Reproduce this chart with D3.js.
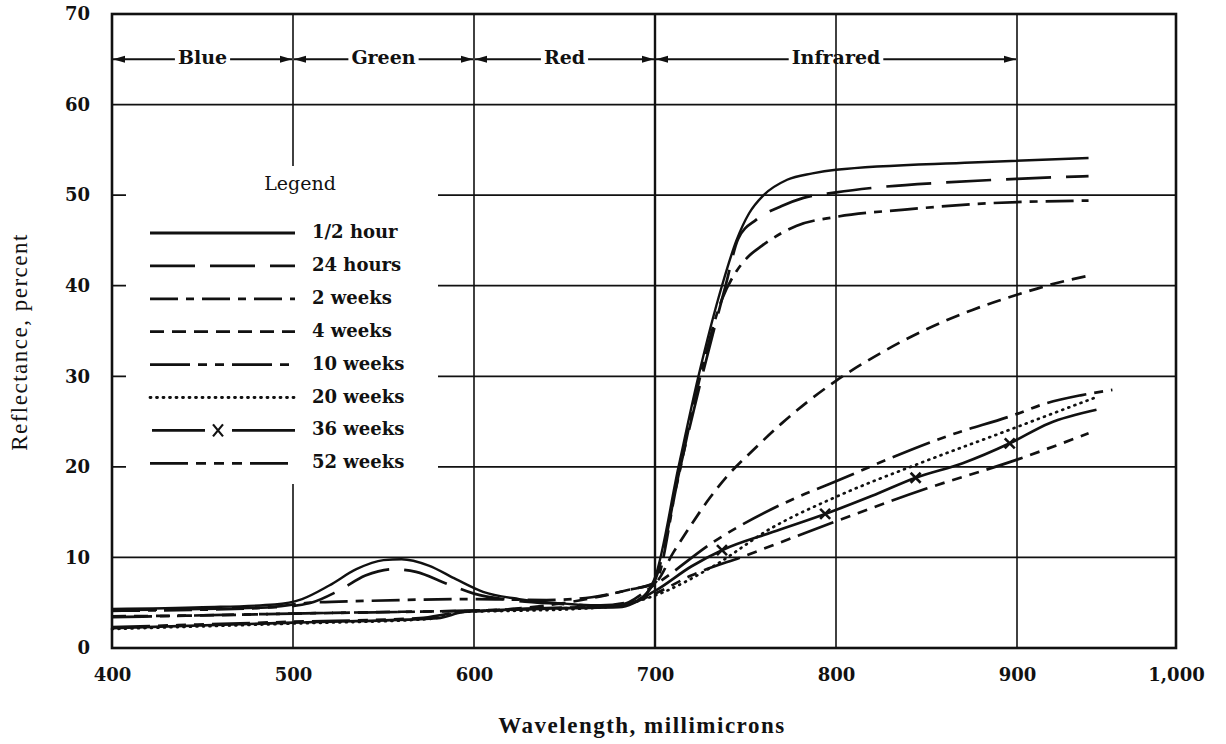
<!DOCTYPE html>
<html>
<head>
<meta charset="utf-8">
<script src="https://cdn.jsdelivr.net/npm/d3@7"></script>
<style>
  body { margin: 0; background: #fff; }
  text { fill: #111; }
</style>
</head>
<body>
<svg id="chart" width="1226" height="744"></svg>
<script>
///////////////////// DATA /////////////////////////
// wavelength (millimicrons), reflectance (percent)
let xTicks = [400, 500, 600, 700, 800, 900, 1000];
let yTicks = [0, 10, 20, 30, 40, 50, 60, 70];
let bandNames = ["Blue", "Green", "Red", "Infrared"];
let bandEdges = [400, 500, 600, 700, 900];
let bandLevel = 65;

let seriesNames = ["1/2 hour", "24 hours", "2 weeks", "4 weeks",
                   "10 weeks", "20 weeks", "36 weeks", "52 weeks"];

let halfHour = [[400,4.3],[450,4.5],[490,4.8],[505,5.4],[520,6.9],[535,8.7],[550,9.7],[560,9.8],
  [575,9.1],[590,7.6],[605,6.2],[625,5.4],[650,4.9],[675,4.6],[690,5.2],[700,7.8],[713,20],
  [724,30],[737,40],[745,45],[752,48],[760,50],[773,51.7],[787,52.4],[800,52.8],[875,53.6],[945,54.1]];
let hours24 = [[400,4.2],[490,4.5],[510,5.0],[525,6.3],[540,8.0],[555,8.7],[568,8.4],[585,7.1],
  [600,6.0],[620,5.3],[645,4.9],[670,4.7],[690,5.3],[700,7.5],[714,20],[726,30],[739,40],
  [746,45.2],[756,47.3],[770,48.8],[782,49.7],[800,50.3],[820,50.8],[860,51.4],[900,51.8],[945,52.1]];
let weeks2 = [[400,4.1],[480,4.4],[510,5.0],[540,5.2],[600,5.4],[640,5.3],[665,5.6],[685,6.4],
  [700,7.2],[712,18],[725,30],[737,38.5],[745,41.6],[752,43.3],[759,44.4],[778,46.6],[800,47.6],
  [838,48.4],[875,49.0],[945,49.4]];
let weeks4 = [[400,3.5],[450,3.6],[500,3.8],[560,4.0],[600,4.1],[640,4.7],[665,5.5],[685,6.4],
  [700,7.2],[710,10.5],[720,13.6],[730,16.5],[740,19.0],[755,22.0],[770,24.8],[785,27.3],
  [800,29.5],[825,32.6],[850,35.2],[875,37.3],[900,39.0],[925,40.3],[945,41.1]];
let weeks10 = [[400,3.4],[500,3.8],[590,4.1],[640,4.4],[680,4.7],[700,7.0],[733,11.8],[778,16.6],
  [800,18.4],[821,20.2],[863,23.5],[898,25.7],[918,27.0],[940,27.9],[960,28.5]];
let weeks20 = [[400,2.1],[500,2.7],[575,3.2],[595,4.0],[620,4.1],[655,4.3],[680,4.7],[700,5.8],
  [732,9.0],[764,13.2],[799,16.6],[845,20.3],[896,24.1],[918,25.6],[950,27.7]];
let weeks36 = [[400,2.2],[500,2.8],[580,3.3],[595,4.0],[650,4.4],[680,4.5],[700,6.3],[720,9.0],
  [737,10.8],[765,12.8],[794,14.8],[820,16.8],[844,18.8],[870,20.4],[896,22.6],[920,24.8],[950,26.3]];
let weeks52 = [[400,2.3],[500,2.9],[570,3.3],[590,3.9],[620,4.2],[660,4.5],[685,4.9],[700,6.0],
  [720,8.0],[750,10.2],[800,14.0],[850,17.6],[900,20.8],[945,23.7]];
let crosses36 = [[737,10.8],[794,14.8],[844,18.8],[896,22.6]];

let seriesData = [halfHour, hours24, weeks2, weeks4, weeks10, weeks20, weeks36, weeks52];

///////////////////// STYLE /////////////////////////
let dashes = [null, "45,15", "28,8,8,8", "14,8", "40,8,9,8,9,8", "1,5.5", null, "38,8,10,8,10,8,10,8"];
let ink = "#111";
let serif = "'DejaVu Serif', serif";

let svg = d3.select("#chart");

// the scanned sheet is squeezed a little past 900
let x = d3.scaleLinear().domain([400, 900, 1000]).range([112, 1017, 1176]);
let y = d3.scaleLinear().domain([0, 70]).range([648, 14]);

///////////////////// GRID /////////////////////////
let grid = svg.append("g").attr("stroke", ink);

grid.selectAll(".vgrid")
  .data(xTicks.filter(d => d > 400 && d < 1000))
  .enter().append("line")
  .attr("x1", d => x(d)).attr("x2", d => x(d))
  .attr("y1", y(0)).attr("y2", y(70))
  .attr("stroke-width", d => d == 700 ? 2.4 : 1.6);

grid.selectAll(".hgrid")
  .data(yTicks.filter(d => d > 0 && d < 70))
  .enter().append("line")
  .attr("x1", x(400)).attr("x2", x(1000))
  .attr("y1", d => y(d)).attr("y2", d => y(d))
  .attr("stroke-width", 1.8);

// frame
svg.append("rect")
  .attr("x", x(400)).attr("y", y(70))
  .attr("width", x(1000) - x(400)).attr("height", y(0) - y(70))
  .attr("fill", "none").attr("stroke", ink).attr("stroke-width", 2.6);

///////////////////// AXES /////////////////////////
let xAxis = svg.append("g")
  .attr("transform", "translate(0," + y(0) + ")")
  .call(d3.axisBottom(x).tickValues(xTicks).tickSize(0).tickPadding(20).tickFormat(d3.format(",")));
xAxis.select(".domain").remove();

let yAxis = svg.append("g")
  .attr("transform", "translate(" + x(400) + ",0)")
  .call(d3.axisLeft(y).tickValues(yTicks).tickSize(0).tickPadding(22));
yAxis.select(".domain").remove();

svg.selectAll(".tick text")
  .style("font-family", serif).style("font-weight", "bold").style("font-size", "18px")
  .attr("fill", ink);

svg.append("text")
  .attr("transform", "translate(22,342) rotate(-90)")
  .attr("text-anchor", "middle").attr("dominant-baseline", "middle")
  .style("font-family", "'Liberation Serif', serif").style("font-size", "23px")
  .style("letter-spacing", "1.5px")
  .text("Reflectance, percent");

svg.append("text")
  .attr("x", 642).attr("y", 728)
  .attr("text-anchor", "middle").attr("dominant-baseline", "middle")
  .style("font-family", "'Liberation Serif', serif").style("font-size", "23px")
  .style("font-weight", "bold").style("letter-spacing", "1.5px")
  .text("Wavelength, millimicrons");

///////////////////// BANDS /////////////////////////
let band = svg.append("g");
let by = y(bandLevel);
let arrow = (tip, dir) => {
  // small filled head pointing at the divider
  let p = d3.path();
  p.moveTo(tip, by);
  p.lineTo(tip - dir * 12, by - 3.5);
  p.lineTo(tip - dir * 12, by + 3.5);
  p.closePath();
  band.append("path").attr("d", p.toString()).attr("fill", ink);
};

bandNames.forEach((name, i) => {
  let a = x(bandEdges[i]), b = x(bandEdges[i + 1]);
  let mid = (a + b) / 2;
  let t = band.append("text")
    .attr("x", mid).attr("y", by)
    .attr("text-anchor", "middle").attr("dominant-baseline", "middle")
    .style("font-family", serif).style("font-size", "19px").style("font-weight", "600")
    .text(name);
  let w = t.node().getComputedTextLength();
  band.append("line").attr("x1", a + 1).attr("x2", mid - w / 2 - 3)
    .attr("y1", by).attr("y2", by).attr("stroke", ink).attr("stroke-width", 2);
  band.append("line").attr("x1", mid + w / 2 + 3).attr("x2", b - 1)
    .attr("y1", by).attr("y2", by).attr("stroke", ink).attr("stroke-width", 2);
  arrow(a + 1, -1);
  arrow(b - 1, 1);
});

///////////////////// LEGEND /////////////////////////
let legend = svg.append("g");
legend.append("rect")
  .attr("x", 126).attr("y", 166).attr("width", 312).attr("height", 318)
  .attr("fill", "#fff");

legend.append("text")
  .attr("x", 300).attr("y", 185)
  .attr("text-anchor", "middle").attr("dominant-baseline", "middle")
  .style("font-family", serif).style("font-size", "19px")
  .text("Legend");

let rowY = i => 233 + i * 32.9;

seriesNames.forEach((name, i) => {
  let ry = rowY(i);
  if (i == 6) {
    legend.append("line").attr("x1", 152).attr("x2", 205).attr("y1", ry).attr("y2", ry)
      .attr("stroke", ink).attr("stroke-width", 2.8);
    legend.append("line").attr("x1", 232).attr("x2", 295).attr("y1", ry).attr("y2", ry)
      .attr("stroke", ink).attr("stroke-width", 2.8);
    legend.append("path")
      .attr("d", `M${218 - 5},${ry - 6}L${218 + 5},${ry + 6}M${218 + 5},${ry - 6}L${218 - 5},${ry + 6}`)
      .attr("stroke", ink).attr("stroke-width", 2.2);
  } else {
    legend.append("line").attr("x1", 150).attr("x2", 295).attr("y1", ry).attr("y2", ry)
      .attr("stroke", ink).attr("stroke-width", 2.8)
      .attr("stroke-linecap", i == 5 ? "round" : "butt")
      .attr("stroke-dasharray", dashes[i]);
  }
  legend.append("text")
    .attr("x", 312).attr("y", ry)
    .attr("dominant-baseline", "middle")
    .style("font-family", serif).style("font-weight", "bold").style("font-size", "18px")
    .text(name);
});

///////////////////// CURVES /////////////////////////
let line = d3.line()
  .x(d => x(d[0]))
  .y(d => y(d[1]))
  .curve(d3.curveMonotoneX);

svg.append("g").selectAll("path")
  .data(seriesData)
  .enter().append("path")
  .attr("d", line)
  .attr("fill", "none")
  .attr("stroke", ink)
  .attr("stroke-width", (d, i) => i == 0 ? 2.4 : 2.7)
  .attr("stroke-linecap", (d, i) => i == 5 ? "round" : "butt")
  .attr("stroke-dasharray", (d, i) => dashes[i]);

svg.append("g").selectAll("path")
  .data(crosses36)
  .enter().append("path")
  .attr("d", d => {
    let cx = x(d[0]), cy = y(d[1]);
    return `M${cx - 5},${cy - 5}L${cx + 5},${cy + 5}M${cx + 5},${cy - 5}L${cx - 5},${cy + 5}`;
  })
  .attr("stroke", ink).attr("stroke-width", 2.6);
</script>
</body>
</html>
